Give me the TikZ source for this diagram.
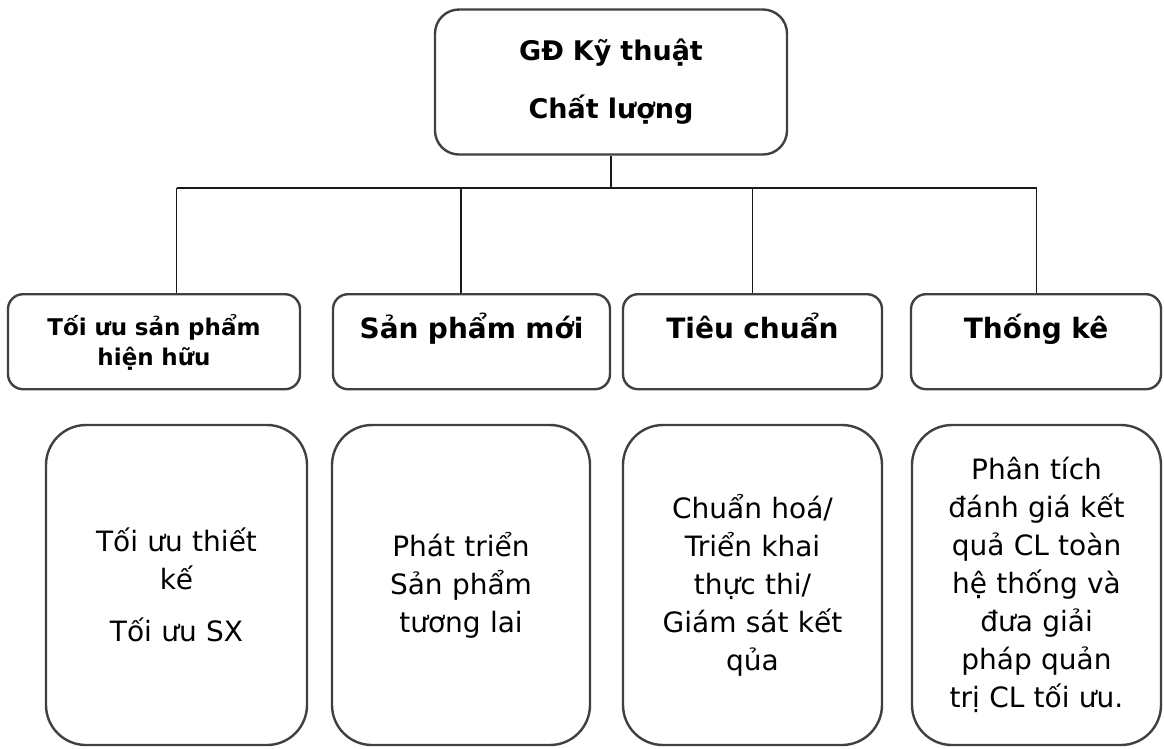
\documentclass[tikz,border=0pt]{standalone}
\usepackage{fontspec}
\setmainfont{DejaVu Sans}
\tikzset{
  box/.style={draw=black!75, line width=2.4pt, align=center, inner sep=0pt},
  topbox/.style={box, rounded corners=24pt, minimum width=352pt, minimum height=145pt,
    text width=340pt, font=\bfseries\fontsize{27}{58}\selectfont},
  headbox/.style={box, rounded corners=15pt, anchor=north, minimum width=#1, text width=#1-10pt,
    minimum height=95pt, text height=44pt, text depth=51pt, font=\bfseries\fontsize{28}{30}\selectfont},
  taskbox/.style={box, rounded corners=40pt, minimum width=#1, text width=#1-20pt,
    minimum height=320pt, font=\fontsize{28}{38}\selectfont},
  link/.style={draw=black!90, line width=1.8pt}
}
\begin{document}
\begin{tikzpicture}[x=1pt, y=-1pt]
\useasboundingbox (0,0) rectangle (1164,748);

% Top box
\node[topbox] (gd) at (611,82) {GĐ Kỹ thuật\\ Chất lượng};

% Header boxes, one per team
\node[headbox=292pt, text height=41pt, text depth=54pt, font=\bfseries\fontsize{23}{30}\selectfont]
  (headA) at (154,293) {Tối ưu sản phẩm\\ hiện hữu};
\node[headbox=277pt] (headB) at (471.5,293) {Sản phẩm mới};
\node[headbox=259pt] (headC) at (752.5,293) {Tiêu chuẩn};
\node[headbox=250pt] (headD) at (1036,293) {Thống kê};

% Task boxes below the headers
\node[taskbox=261pt] (taskA) at (176.5,585) {Tối ưu thiết\\ kế\\[14pt] Tối ưu SX};
\node[taskbox=258pt] (taskB) at (461,585) {Phát triển\\ Sản phẩm\\ tương lai};
\node[taskbox=259pt] (taskC) at (752.5,585) {Chuẩn hoá/\\ Triển khai\\ thực thi/\\ Giám sát kết\\ qủa};
\node[taskbox=249pt] (taskD) at (1036.5,585) {Phân tích\\ đánh giá kết\\ quả CL toàn\\ hệ thống và\\ đưa giải\\ pháp quản\\ trị CL tối ưu.};

% Stem and bus
\coordinate (bus) at (611,188);
\draw[link] (gd.south) -- (bus);
\draw[link] (taskA.north |- bus) -- (taskD.north |- bus);

% Drops from the bus to each header
\foreach \t/\h in {taskA/headA, taskB/headB, taskC/headC, taskD/headD}
  \draw[link] (\t.north |- bus) -- (\t.north |- \h.north);
\end{tikzpicture}
\end{document}
